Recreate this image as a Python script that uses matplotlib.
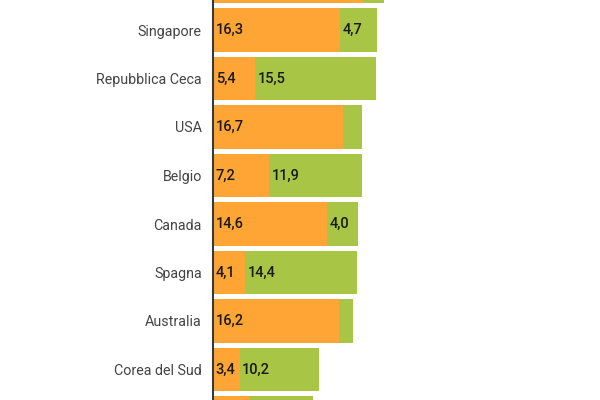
import matplotlib
matplotlib.use("Agg")
import matplotlib.pyplot as plt

categories = ["", "Singapore", "Repubblica Ceca", "USA", "Belgio", "Canada",
              "Spagna", "Australia", "Corea del Sud", ""]
orange_vals = [19.2, 16.3, 5.4, 16.7, 7.2, 14.6, 4.1, 16.2, 3.4, 4.6]
green_vals = [2.7, 4.7, 15.5, 2.4, 11.9, 4.0, 14.4, 1.7, 10.2, 8.2]

ORANGE = "#FFA535"
GREEN = "#A8C545"

plt.rcParams['font.family'] = ['Roboto', 'DejaVu Sans']

fig = plt.figure(figsize=(6, 4), dpi=100)
ax = fig.add_axes([213 / 600, 0, 234 / 600, 1])

pos = list(range(len(categories)))
ax.barh(pos, orange_vals, height=0.9, color=ORANGE)
ax.barh(pos, green_vals, left=orange_vals, height=0.9, color=GREEN)

y_bottom = (400 - 30) / 48.5 + 1
y_top = (0 - 30) / 48.5 + 1

def fmt(v):
    return f"{v:.1f}".replace(".", ",")

for i, (o, g) in enumerate(zip(orange_vals, green_vals)):
    if not (y_top + 0.2 < i < y_bottom - 0.2):
        continue
    if o >= 3:
        ax.text(0.35, i, fmt(o), va="center", ha="left", fontsize=10.5,
                color="#1a1a1a", fontweight="medium")
    if g >= 3:
        ax.text(o + 0.35, i, fmt(g), va="center", ha="left", fontsize=10.5,
                color="#1a1a1a", fontweight="medium")

ax.set_yticks(pos)
ax.set_yticklabels(categories, fontsize=10.3, color="#444444")
ax.tick_params(axis="y", length=0, pad=8)
ax.set_xticks([])
ax.set_xlim(0, 30)
ax.set_ylim(y_bottom, y_top)

for s in ["top", "right", "bottom"]:
    ax.spines[s].set_visible(False)
ax.spines["left"].set_color("#333a44")
ax.spines["left"].set_linewidth(1.5)
ax.set_zorder(1)

fig.savefig("out.png", dpi=100)
